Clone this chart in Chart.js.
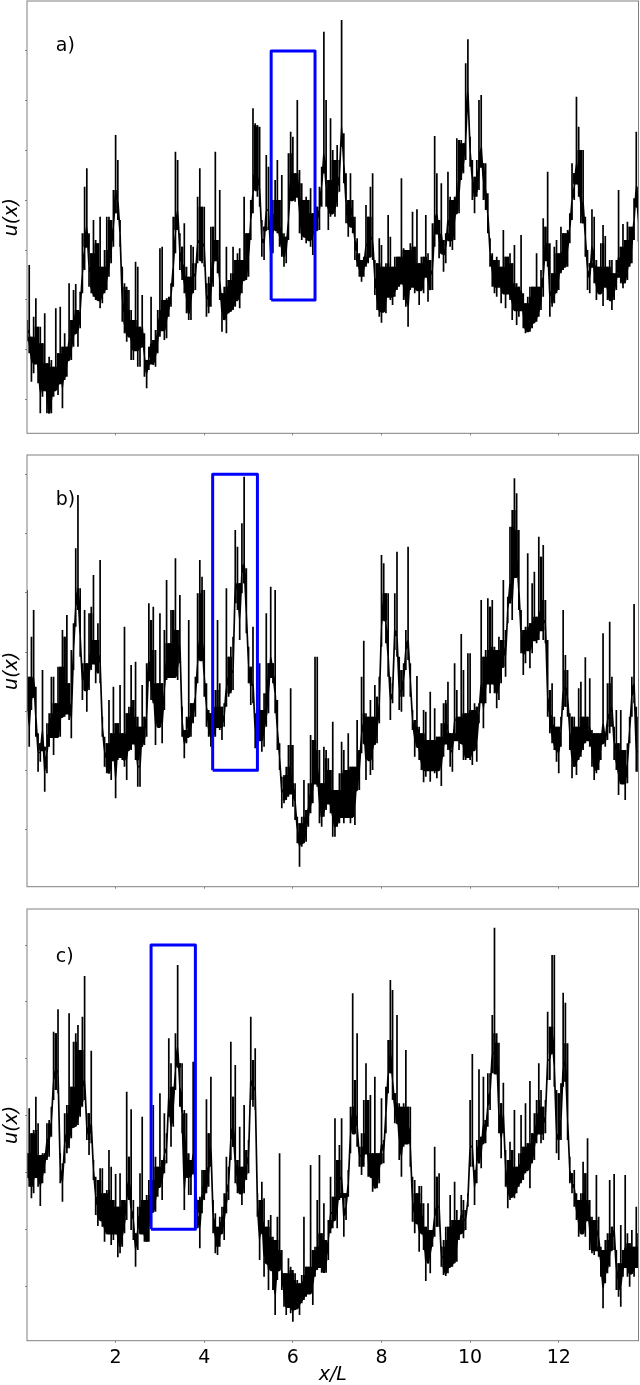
<!DOCTYPE html>
<html><head><meta charset="utf-8">
<script src="https://cdn.jsdelivr.net/npm/chart.js@4/dist/chart.umd.min.js"></script>
<style>
html,body{margin:0;padding:0;background:#fff;width:640px;height:1385px;overflow:hidden}
canvas{position:absolute;left:0;display:block}
</style></head><body>
<canvas id="pa" width="640" height="450" style="top:0;width:640px;height:450px"></canvas>
<canvas id="pb" width="640" height="450" style="top:450px;width:640px;height:450px"></canvas>
<canvas id="pc" width="640" height="485" style="top:900px;width:640px;height:485px"></canvas>
<script>
const xStep = 0.05, xMin = 0, xMax = 13.8;
const xTicks = [2,4,6,8,10,12];
const xTitle = 'x/L', yTitle = 'u(x)';

// Signal is much denser than a pixel: each sample column holds its upper and lower reading.
const upperA = [
340,505,290,350,405,320,320,270,360,210,230,220,200,375,240,380,260,300,260,450,
340,430,448,370,425,600,740,795,600,540,640,580,570,650,500,550,650,650,640,730,
895,820,640,500,450,440,430,370,340,515,500,320,415,300,220,260,410,280,310,370,
555,560,400,405,410,450,650,845,820,600,560,630,500,470,565,560,510,710,795,680,
680,450,470,620,620,845,580,730,420,440,560,460,480,560,520,540,555,520,710,600,
600,700,975,930,925,920,640,620,835,800,600,700,760,820,700,775,600,590,840,905,
890,780,1000,790,750,700,710,700,735,660,700,680,740,800,1205,1000,760,945,850,820,
865,820,1240,900,780,700,780,700,650,585,540,520,530,685,650,740,780,520,510,585,
565,500,510,655,590,500,530,530,530,765,555,550,550,570,665,560,672,510,530,530,
655,540,520,630,892,780,640,750,580,600,785,710,700,710,885,880,880,870,1110,1182,
890,820,770,820,1000,1015,810,810,720,585,540,520,530,520,500,610,530,530,540,510,
565,450,440,595,420,390,410,440,440,440,540,440,490,645,620,785,570,480,560,580,
540,620,600,600,610,660,810,780,1010,920,850,850,650,550,510,672,650,520,500,570,
625,592,500,520,520,480,520,730,560,628,580,635,620,620,705,905,740];
const lowerA = [
280,240,155,180,210,150,60,110,130,60,60,60,110,130,115,150,75,160,170,220,
220,260,300,260,315,420,490,560,440,420,410,400,400,375,390,420,430,470,510,560,
660,640,560,335,300,275,290,220,220,250,200,200,260,170,135,190,210,205,200,240,
290,310,280,285,350,380,440,540,610,490,460,420,360,340,340,420,430,510,520,510,
500,350,360,380,440,520,480,400,305,340,300,360,365,370,380,400,375,420,460,460,
470,580,660,730,710,680,530,520,610,610,485,540,610,600,560,530,500,510,580,700,
700,695,710,600,580,590,570,580,560,535,600,610,610,680,780,680,610,650,660,650,
680,725,860,750,630,590,620,600,520,500,470,455,470,500,510,530,520,415,370,350,
332,365,360,410,400,385,410,430,440,450,400,380,320,430,440,420,430,385,430,420,
470,395,430,430,560,600,525,540,485,510,580,560,550,580,660,660,760,780,820,970,
800,700,660,710,730,800,700,670,600,500,440,420,410,440,390,420,375,420,400,340,
370,325,350,370,315,300,305,305,315,330,335,350,370,410,520,500,350,380,390,420,
430,480,490,500,500,570,640,700,750,710,630,630,530,430,420,500,450,400,420,420,
382,440,400,400,370,400,430,470,450,435,450,460,500,510,580,680,575];

const upperB = [
890,630,750,830,600,460,430,650,420,490,520,630,630,550,660,660,770,750,815,610,
710,790,1015,1175,895,670,830,670,820,840,935,740,790,980,510,450,430,560,460,600,
490,490,605,460,780,520,540,665,560,675,510,480,605,510,670,850,800,840,710,610,
820,610,770,920,730,830,830,985,770,875,540,470,510,800,550,550,630,880,980,930,
890,610,530,520,540,590,800,610,540,550,895,690,720,750,1070,1020,910,1090,1230,955,
720,660,780,520,550,670,530,580,820,670,900,670,890,560,430,330,335,360,425,595,
425,310,210,190,210,320,230,310,455,440,690,690,410,310,420,410,385,350,495,290,
290,340,435,410,350,460,360,360,360,500,410,630,738,520,510,560,510,605,570,630,
995,970,880,880,630,610,880,1005,690,650,670,770,1020,670,530,500,632,480,460,530,
525,440,585,440,535,450,450,490,550,560,615,460,460,670,590,510,758,650,520,700,
700,530,550,540,550,860,690,710,865,840,860,720,710,750,740,920,770,870,1080,1130,
1225,1180,1070,830,770,780,1000,790,910,945,810,1050,990,1025,860,740,590,610,510,480,
480,510,830,695,650,520,510,510,480,595,615,510,688,510,625,470,460,460,460,460,
760,460,610,795,630,480,530,430,530,410,410,430,510,630,848,540,510];
const lowerB = [
530,420,530,570,450,345,375,410,285,340,420,450,395,450,450,450,510,510,520,500,
445,650,780,830,690,560,590,525,590,650,670,610,640,610,450,360,340,340,320,380,
265,380,390,380,360,320,410,410,430,380,300,300,420,425,450,620,560,550,425,480,
480,430,530,620,630,630,630,630,620,670,450,385,430,450,450,490,510,610,680,680,
570,480,450,420,430,450,480,470,440,480,540,570,580,590,850,830,740,880,910,760,
610,545,550,415,430,440,405,420,480,520,630,610,520,410,350,235,250,260,270,280,
240,200,130,60,120,130,135,180,220,250,310,300,190,180,210,230,250,220,150,150,
180,190,210,190,210,210,190,210,185,290,290,400,430,320,380,335,350,425,430,490,
720,800,730,630,500,550,710,690,530,525,570,650,680,570,470,390,420,380,350,313,
330,350,315,350,340,325,350,302,390,430,410,360,345,440,440,410,430,380,380,390,
380,365,410,375,490,550,475,550,610,580,610,580,535,560,610,660,630,790,850,800,
930,930,830,700,635,670,710,655,700,740,730,740,770,740,730,510,460,430,410,375,
340,420,530,540,510,410,325,360,335,380,390,410,430,440,420,360,320,340,350,380,
430,420,440,460,480,380,350,275,310,310,260,310,430,510,550,345,345];

const upperC = [
562,697,622,632,732,652,557,562,562,652,662,702,927,922,994,562,532,682,707,982,
762,897,922,947,872,972,1094,682,682,870,542,492,482,517,517,442,452,572,522,422,
500,402,502,422,422,747,552,694,422,322,402,502,672,422,437,482,482,707,552,522,
742,542,682,622,907,832,762,922,1127,832,832,692,682,562,542,837,522,422,432,512,
512,724,622,792,422,382,342,372,402,442,552,522,897,732,827,542,642,522,707,572,
602,972,842,877,442,422,477,427,342,362,377,312,302,372,562,272,202,202,247,222,
212,202,182,172,197,372,222,222,527,272,282,422,557,322,412,302,362,492,432,667,
542,587,667,442,442,512,702,1042,782,922,582,622,722,832,722,737,562,792,562,562,
727,602,762,902,1082,1052,742,977,712,702,712,872,702,702,492,482,442,464,464,412,
342,412,332,332,582,492,502,282,302,342,342,437,362,477,392,362,437,422,392,442,
722,860,512,602,814,612,792,662,802,802,977,1239,922,894,712,774,572,542,597,572,
692,522,562,677,582,712,592,779,622,682,722,832,752,702,722,987,942,1157,1157,752,
742,772,1044,1014,892,552,502,512,442,422,442,537,502,607,422,372,362,497,372,282,
272,302,322,482,342,500,272,232,347,272,497,322,292,332,282,402,322];
const lowerC = [
492,462,427,442,492,462,404,472,502,542,552,612,722,752,742,472,417,532,562,577,
607,642,642,647,672,702,722,602,557,592,482,377,344,362,342,297,322,322,287,302,
322,250,262,282,322,362,422,332,302,222,272,322,322,297,297,297,362,387,387,432,
462,422,502,532,672,582,642,752,822,702,622,392,492,437,437,502,402,337,277,382,
422,442,462,522,322,262,257,282,322,302,382,422,542,582,472,442,442,407,442,482,
502,722,702,692,372,242,322,192,232,152,212,152,77,182,212,152,102,77,102,82,
57,92,97,77,112,122,132,142,142,107,192,212,222,204,204,204,242,322,337,362,
337,422,432,312,362,432,562,622,622,582,522,497,522,562,492,492,447,457,457,472,
532,532,622,742,802,722,652,652,542,492,582,592,592,522,357,322,352,267,322,272,
179,232,202,282,312,342,342,222,197,194,202,222,222,232,237,302,322,307,332,402,
522,522,407,472,532,517,592,592,642,692,802,802,802,622,547,622,462,397,422,432,
427,442,462,472,482,502,512,457,532,542,592,622,592,602,622,782,782,862,762,562,
542,602,762,777,602,472,442,402,362,312,322,322,312,362,272,262,257,272,252,192,
97,172,202,222,272,272,152,132,102,192,222,192,162,202,192,222,222];

const yTicksA = [100,250,400,549,699,848,998,1147];
const yTicksB = [172,349,526,704,882,1060,1237];
const yTicksC = [163,334,505,675,846,1017,1187];

const boxXA = [5.51,5.51,6.5,6.5,5.51], boxYA = [400,1147,1147,400,400];
const boxXB = [4.19,4.19,5.2,5.2,4.19], boxYB = [349,1237,1237,349,349];
const boxXC = [2.8,2.8,3.8,3.8,2.8],    boxYC = [334,1187,1187,334,334];

const labelA = 'a)', labelB = 'b)', labelC = 'c)';
const labelX = 0.65, labelYA = 1147, labelYB = 1145, labelYC = 1135;
const yMaxA = 1297, yMaxB = 1295, yMaxC = 1295;

const FONT = "'DejaVu Sans'";
const FS = 19;
const GREY = '#808080';
Chart.defaults.animation = false;

function zip(xs, ys){ return xs.map((x,i)=>({x, y:ys[i]})); }
const colX = i => +(xMin+i*xStep).toFixed(2);

// One column of the trace: in at the core, up to the upper reading, down to the lower, back to the core.
function trace(upper, lower){
  const pts = [];
  upper.forEach((hi,i)=>{
    const x = colX(i), lo = lower[i];
    const core = lo + Math.min(hi-lo,120)/2;
    pts.push({x,y:core},{x,y:hi},{x,y:lo},{x,y:core});
  });
  return pts;
}
// The solid part of the band: what a column shares with both neighbours.
function band(upper, lower){
  const pts = [];
  upper.forEach((_,i)=>{
    const a = Math.max(i-1,0), b = Math.min(i+1,upper.length-1);
    const hi = Math.min(upper[a],upper[i],upper[b]);
    const lo = Math.max(lower[a],lower[i],lower[b]);
    const x = colX(i);
    if (hi>lo) pts.push({x,y:lo},{x,y:hi},{x,y:lo});
    else pts.push({x,y:NaN});
  });
  return pts;
}

const framePlugin = {
  id:'frame',
  afterDraw(chart, args, o){
    const {ctx, chartArea:a, scales} = chart;
    ctx.save();
    ctx.strokeStyle = GREY; ctx.lineWidth = 1;
    ctx.strokeRect(a.left, a.top, a.right-a.left, a.bottom-a.top);
    ctx.fillStyle = '#000';
    ctx.font = FS+"px " + FONT;
    ctx.textAlign = 'left'; ctx.textBaseline = 'alphabetic';
    ctx.fillText(o.text, scales.x.getPixelForValue(o.x), scales.y.getPixelForValue(o.y));
    ctx.restore();
  }
};

function panel(id, upper, lower, yTicks, yMax, boxX, boxY, label, labelY, padTop, xAxisH, showX){
  return new Chart(document.getElementById(id), {
    type:'line',
    plugins:[framePlugin],
    data:{datasets:[
      {data:zip(boxX,boxY), borderColor:'#0000ff', borderWidth:3, borderJoinStyle:'round', pointRadius:0, tension:0, order:0},
      {data:trace(upper,lower), borderColor:'#000', borderWidth:1.7, pointRadius:0, tension:0, order:1, borderJoinStyle:'bevel'},
      {data:band(upper,lower), borderColor:'#000', borderWidth:2.4, pointRadius:0, tension:0, order:2, borderJoinStyle:'bevel', spanGaps:false}
    ]},
    options:{
      responsive:false, maintainAspectRatio:false, devicePixelRatio:1,
      layout:{padding:{top:padTop,right:1.5,left:0,bottom:0}},
      plugins:{legend:{display:false},tooltip:{enabled:false},
        frame:{text:label,x:labelX,y:labelY}},
      scales:{
        x:{type:'linear',min:xMin,max:xMax,
          grid:{drawOnChartArea:false,drawTicks:true,tickLength:2,color:GREY},
          border:{display:false},
          afterBuildTicks(s){s.ticks=xTicks.map(v=>({value:v}));},
          afterFit(s){s.height=xAxisH;},
          ticks:{display:showX,autoSkip:false,maxRotation:0,padding:4,color:'#000',font:{family:FONT,size:FS}},
          title:{display:showX,text:xTitle,color:'#000',padding:{top:0,bottom:0},font:{family:FONT,size:FS,style:'italic',lineHeight:1}}
        },
        y:{type:'linear',min:0,max:yMax,
          grid:{drawOnChartArea:false,drawTicks:true,tickLength:2,color:GREY},
          border:{display:false},
          afterBuildTicks(s){s.ticks=yTicks.map(v=>({value:v}));},
          afterFit(s){s.width=27;},
          ticks:{display:false},
          title:{display:true,text:yTitle,color:'#000',padding:{top:1,bottom:0},font:{family:FONT,size:FS,style:'italic'}}
        }
      }
    }
  });
}
panel('pa',upperA,lowerA,yTicksA,yMaxA,boxXA,boxYA,labelA,labelYA,1,16.7,false);
panel('pb',upperB,lowerB,yTicksB,yMaxB,boxXB,boxYB,labelB,labelYB,5,13.3,false);
panel('pc',upperC,lowerC,yTicksC,yMaxC,boxXC,boxYC,labelC,labelYC,9,44.3,true);
</script>
</body></html>
